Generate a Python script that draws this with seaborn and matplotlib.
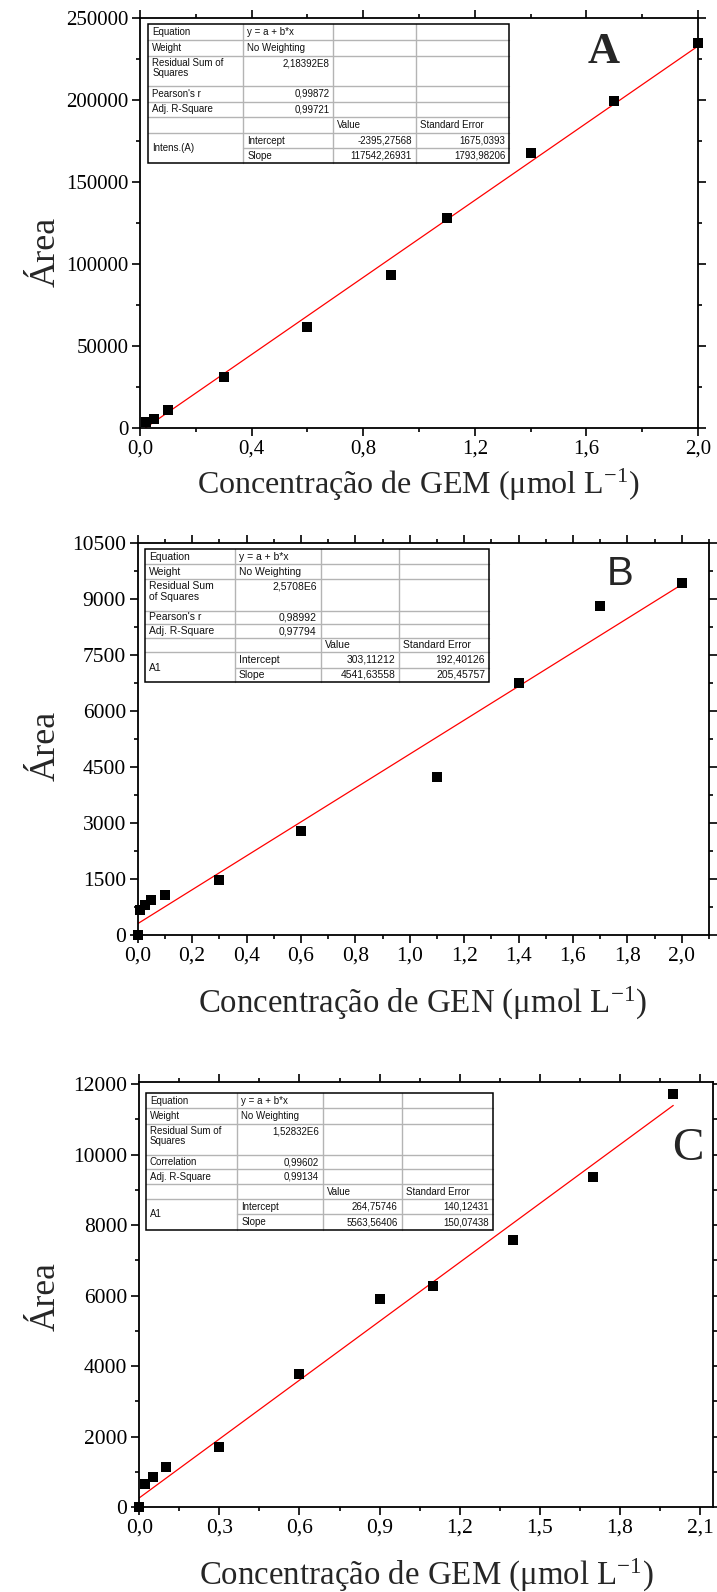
import matplotlib
matplotlib.use("Agg")
import matplotlib.pyplot as plt
from matplotlib.ticker import MultipleLocator, FuncFormatter
from matplotlib.patches import Rectangle
import numpy as np
import pandas as pd
import seaborn as sns

# ---- calibration data ----
conc_a = [0.02, 0.05, 0.1, 0.3, 0.6, 0.9, 1.1, 1.4, 1.7, 2.0]
area_a = [3300, 5100, 10500, 31100, 61200, 93000, 127700, 167300, 199500, 234800]
fit_a = (-2395.27568, 117542.26931)

conc_b = [0.0, 0.01, 0.025, 0.05, 0.1, 0.3, 0.6, 1.1, 1.4, 1.7, 2.0]
area_b = [0, 670, 805, 930, 1080, 1470, 2790, 4240, 6760, 8820, 9440]
fit_b = (303.11212, 4541.63558)

conc_c = [0.0, 0.02, 0.05, 0.1, 0.3, 0.6, 0.9, 1.1, 1.4, 1.7, 2.0]
area_c = [0, 650, 855, 1130, 1715, 3770, 5895, 6270, 7570, 9355, 11710]
fit_c = (264.75746, 5563.56406)

xlabels = ["Concentração de GEM (\u03bcmol L$^{-1}$)",
           "Concentração de GEN (\u03bcmol L$^{-1}$)",
           "Concentração de GEM (\u03bcmol L$^{-1}$)"]

table_a = [
    ["Equation", "y = a + b*x", "", ""],
    ["Weight", "No Weighting", "", ""],
    ["Residual Sum of\nSquares", "2,18392E8", "", ""],
    ["Pearson's r", "0,99872", "", ""],
    ["Adj. R-Square", "0,99721", "", ""],
    ["", "", "Value", "Standard Error"],
    ["Intens.(A)", "Intercept", "-2395,27568", "1675,0393"],
    ["", "Slope", "117542,26931", "1793,98206"],
]
table_b = [
    ["Equation", "y = a + b*x", "", ""],
    ["Weight", "No Weighting", "", ""],
    ["Residual Sum\nof Squares", "2,5708E6", "", ""],
    ["Pearson's r", "0,98992", "", ""],
    ["Adj. R-Square", "0,97794", "", ""],
    ["", "", "Value", "Standard Error"],
    ["A1", "Intercept", "303,11212", "192,40126"],
    ["", "Slope", "4541,63558", "205,45757"],
]
table_c = [
    ["Equation", "y = a + b*x", "", ""],
    ["Weight", "No Weighting", "", ""],
    ["Residual Sum of\nSquares", "1,52832E6", "", ""],
    ["Correlation", "0,99602", "", ""],
    ["Adj. R-Square", "0,99134", "", ""],
    ["", "", "Value", "Standard Error"],
    ["A1", "Intercept", "264,75746", "140,12431"],
    ["", "Slope", "5563,56406", "150,07438"],
]

sns.set_theme(style="ticks")
plt.rcParams.update({
    "font.family": ["Liberation Serif", "DejaVu Serif"],
    "mathtext.fontset": "custom",
    "mathtext.rm": "Liberation Serif",
    "mathtext.it": "Liberation Serif:italic",
    "axes.linewidth": 1.3,
    "axes.edgecolor": "black",
})

W, H = 717, 1592
fig = plt.figure(figsize=(W / 100, H / 100), dpi=100)


def px_axes(left, top, right, bottom):
    return fig.add_axes([left / W, 1 - bottom / H, (right - left) / W, (bottom - top) / H])


def comma(fmt):
    return FuncFormatter(lambda v, p: (fmt.format(v)).replace(".", ","))


panels = [
    dict(box=(140, 17.7, 698, 427.7), x=conc_a, y=area_a, fit=fit_a,
         xlim=(0, 2.0), ylim=(0, 250000), xmaj=0.4, xmin=0.2, ymaj=50000, ymin=25000,
         xlab=(418, 485), ylab_y=252, tick_fs=15, xl_fs=23, yl_fs=26),
    dict(box=(137.7, 543, 708.9, 935), x=conc_b, y=area_b, fit=fit_b,
         xlim=(0, 2.1), ylim=(0, 10500), xmaj=0.2, xmin=0.1, ymaj=1500, ymin=750,
         xlab=(423, 1003), ylab_y=746, tick_fs=15.5, xl_fs=23.7, yl_fs=26),
    dict(box=(139.3, 1081.7, 713.3, 1507.2), x=conc_c, y=area_c, fit=fit_c,
         xlim=(0, 2.15), ylim=(0, 12065), xmaj=0.3, xmin=0.15, ymaj=2000, ymin=1000,
         xlab=(426, 1575), ylab_y=1297, tick_fs=15.5, xl_fs=23.7, yl_fs=25.5),
]

for p, xl in zip(panels, xlabels):
    left, top, right, bottom = p["box"]
    ax = px_axes(left, top, right, bottom)
    df = pd.DataFrame({"conc": p["x"], "area": p["y"]})
    a, b = p["fit"]
    xs = np.array([min(p["x"]), max(p["x"])])
    line = pd.DataFrame({"conc": xs, "area": a + b * xs})
    sns.lineplot(data=line, x="conc", y="area", ax=ax, color="#ff0000", linewidth=0.9)
    sns.scatterplot(data=df, x="conc", y="area", ax=ax, marker="s", s=58,
                    color="black", linewidth=0, zorder=5, clip_on=False)
    ax.set_xlim(*p["xlim"])
    ax.set_ylim(*p["ylim"])
    ax.xaxis.set_major_locator(MultipleLocator(p["xmaj"]))
    ax.xaxis.set_minor_locator(MultipleLocator(p["xmin"]))
    ax.yaxis.set_major_locator(MultipleLocator(p["ymaj"]))
    ax.yaxis.set_minor_locator(MultipleLocator(p["ymin"]))
    ax.xaxis.set_major_formatter(comma("{:.1f}"))
    ax.yaxis.set_major_formatter(FuncFormatter(lambda v, q: f"{int(round(v))}"))
    ax.tick_params(which="both", direction="out", top=True, right=True,
                   labeltop=False, labelright=False, width=1.2, colors="black")
    ax.tick_params(which="major", length=5.5, labelsize=p["tick_fs"], pad=3)
    ax.tick_params(which="minor", length=3)
    for s in ax.spines.values():
        s.set_visible(True)
        s.set_linewidth(1.3)
    ax.set_xlabel(xl, fontsize=p["xl_fs"])
    ax.set_ylabel("Área", fontsize=p["yl_fs"])
    hpx = bottom - top
    wpx = right - left
    lx, ly = p["xlab"]
    ax.xaxis.label.set_va("center")
    ax.xaxis.set_label_coords((lx - left) / wpx, -(ly - bottom) / hpx)
    ax.yaxis.label.set_va("center")
    ax.yaxis.set_label_coords(-(left - 46) / wpx, 1 - (p["ylab_y"] - top) / hpx)

# overlay in pixel coordinates for the fit tables and panel letters
ov = fig.add_axes([0, 0, 1, 1], zorder=10)
ov.set_xlim(0, W)
ov.set_ylim(H, 0)
ov.axis("off")
ov.patch.set_alpha(0)


def draw_table(rows, xe, ye, fs):
    ov.add_patch(Rectangle((xe[0], ye[0]), xe[-1] - xe[0], ye[-1] - ye[0],
                           facecolor="white", edgecolor="none", zorder=1))
    grid = "#b4b4b4"
    for x in xe[1:-1]:
        ov.plot([x, x], [ye[0], ye[-1]], color=grid, lw=1.0, zorder=2)
    for i, y in enumerate(ye[1:-1], start=1):
        x0 = xe[1] if i == 7 else xe[0]
        ov.plot([x0, xe[-1]], [y, y], color=grid, lw=1.0, zorder=2)
    ov.add_patch(Rectangle((xe[0], ye[0]), xe[-1] - xe[0], ye[-1] - ye[0],
                           facecolor="none", edgecolor="black", lw=1.1, zorder=3))
    kw = dict(fontsize=fs, family=["Liberation Sans", "DejaVu Sans"], color="#111111", zorder=4)
    for r, row in enumerate(rows):
        y0, y1 = ye[r], ye[r + 1]
        for c, txt in enumerate(row):
            if not txt:
                continue
            numeric = (c >= 1 and any(ch.isdigit() for ch in txt) and "=" not in txt)
            if r == 6 and c == 0:
                ov.text(xe[0] + 4, ye[7], txt, ha="left", va="center", **kw)
                continue
            if r == 2:
                if numeric:
                    ov.text(xe[c + 1] - 4, y0 + 2, txt, ha="right", va="top", **kw)
                else:
                    ov.text(xe[c] + 4, y0 + 2, txt, ha="left", va="top", linespacing=1.05, **kw)
                continue
            ym = (y0 + y1) / 2
            if numeric:
                ov.text(xe[c + 1] - 4, ym, txt, ha="right", va="center", **kw)
            else:
                ov.text(xe[c] + 4, ym, txt, ha="left", va="center", **kw)


draw_table(table_a, [148.3, 243.3, 333.3, 415.7, 509.3],
           [24, 40.3, 56, 86, 101.7, 117.3, 133.3, 148.3, 163.3], 7.0)
draw_table(table_b, [145, 235, 320.7, 399.3, 489],
           [549.3, 564.3, 579.3, 610.7, 624, 638.3, 652.3, 667.7, 681.7], 7.5)
draw_table(table_c, [146, 237.3, 322.7, 401.7, 492.7],
           [1092.7, 1108.3, 1124, 1155, 1169.3, 1184, 1199.3, 1214.3, 1230], 7.0)

ov.text(604, 52, "A", fontsize=32, fontweight="bold", ha="center", va="center",
        family=["Liberation Serif"])
ov.text(620, 574, "B", fontsize=29, ha="center", va="center",
        family=["Liberation Sans"])
ov.text(688, 1149, "C", fontsize=34, ha="center", va="center",
        family=["Liberation Serif"])

fig.savefig("out.png", dpi=100)
